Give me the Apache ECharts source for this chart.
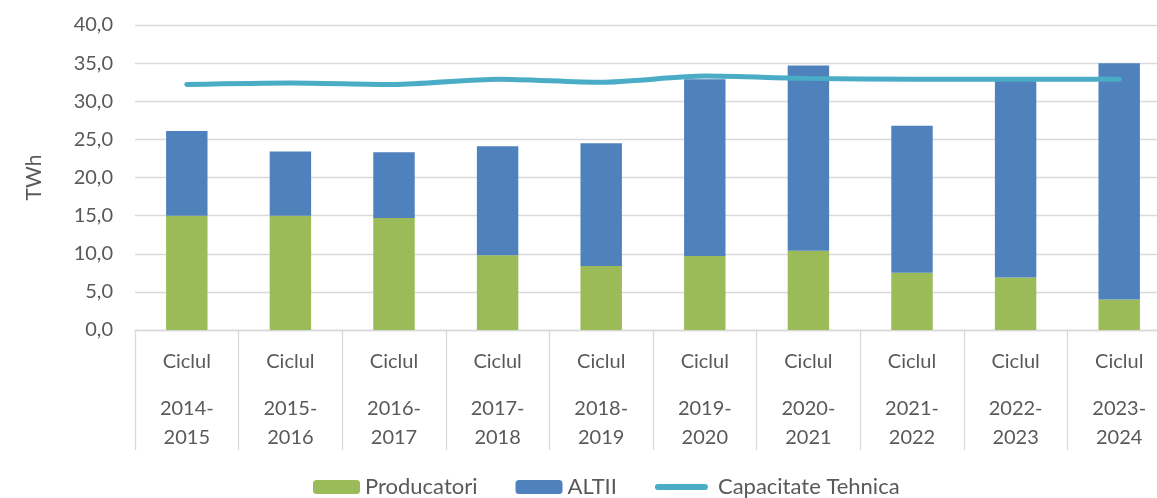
<!DOCTYPE html>
<html>
<head>
<meta charset="utf-8">
<script src="https://cdn.jsdelivr.net/npm/echarts@6/dist/echarts.min.js"></script>
<style>
  html, body { margin: 0; padding: 0; background: #fff; }
  #main { width: 1157px; height: 498px; }
</style>
</head>
<body>
<div id="main"></div>
<script>
// date
const cicluri = ['2014-2015', '2015-2016', '2016-2017', '2017-2018', '2018-2019',
  '2019-2020', '2020-2021', '2021-2022', '2022-2023', '2023-2024']
const producatori = [15.0, 15.0, 14.7, 9.8, 8.4, 9.7, 10.4, 7.5, 6.9, 4.0]
const altii = [11.1, 8.4, 8.6, 14.3, 16.1, 23.2, 24.3, 19.3, 25.8, 31.0]
const capacitate = [32.2, 32.4, 32.2, 32.9, 32.5, 33.3, 33.0, 32.9, 32.9, 32.9]

const font = 'Lato'
const textColor = '#595959'
const gridColor = '#d9d9d9'

const chart = echarts.init(document.getElementById('main'), null, { renderer: 'canvas' })

chart.setOption({
  animation: false,
  textStyle: { fontFamily: font },
  grid: { left: 135, top: 25, width: 1036, height: 305, containLabel: false, outerBoundsMode: 'none' },
  legend: {
    bottom: -5,
    left: 308,
    itemWidth: 47,
    itemHeight: 14,
    itemGap: 38,
    textStyle: { fontFamily: font, fontSize: 22, color: textColor },
    data: [
      { name: 'Producatori' },
      { name: 'ALTII' },
      {
        name: 'Capacitate Tehnica',
        itemStyle: { opacity: 0 },
        lineStyle: { width: 6, cap: 'round', color: '#4bacc6' },
        textStyle: { padding: [0, 0, 0, 8] }
      }
    ]
  },
  xAxis: {
    type: 'category',
    data: cicluri,
    axisLine: { lineStyle: { color: gridColor, width: 1.3 } },
    axisTick: { show: true, length: 120, interval: 0, lineStyle: { color: gridColor, width: 1.3 } },
    axisLabel: {
      interval: 0,
      margin: 0,
      formatter: function (v) {
        const p = v.split('-')
        return '{a|Ciclul}\n{b|' + p[0] + '-}\n{b|' + p[1] + '}'
      },
      rich: {
        a: { fontFamily: font, fontSize: 20, color: textColor, lineHeight: 64 },
        b: { fontFamily: font, fontSize: 20, color: textColor, lineHeight: 29 }
      }
    }
  },
  yAxis: {
    type: 'value',
    min: 0,
    max: 40,
    interval: 5,
    name: 'TWh',
    nameLocation: 'middle',
    nameGap: 90,
    nameTextStyle: { fontFamily: font, fontSize: 21, color: textColor },
    axisLine: { show: false },
    axisTick: { show: false },
    axisLabel: {
      margin: 22,
      fontFamily: font,
      fontSize: 20,
      color: textColor,
      formatter: v => v.toFixed(1).replace('.', ',')
    },
    splitLine: { lineStyle: { color: gridColor, width: 1.3 } }
  },
  series: [
    {
      name: 'Producatori',
      type: 'bar',
      stack: 'total',
      data: producatori,
      barWidth: '40%',
      itemStyle: { color: '#9bbb59' }
    },
    {
      name: 'ALTII',
      type: 'bar',
      stack: 'total',
      data: altii,
      barWidth: '40%',
      itemStyle: { color: '#4f81bd' }
    },
    {
      name: 'Capacitate Tehnica',
      type: 'line',
      data: capacitate,
      symbol: 'none',
      smooth: 0.25,
      z: 5,
      lineStyle: { color: '#4bacc6', width: 5, cap: 'round' },
      itemStyle: { color: '#4bacc6' }
    }
  ]
})
</script>
</body>
</html>
